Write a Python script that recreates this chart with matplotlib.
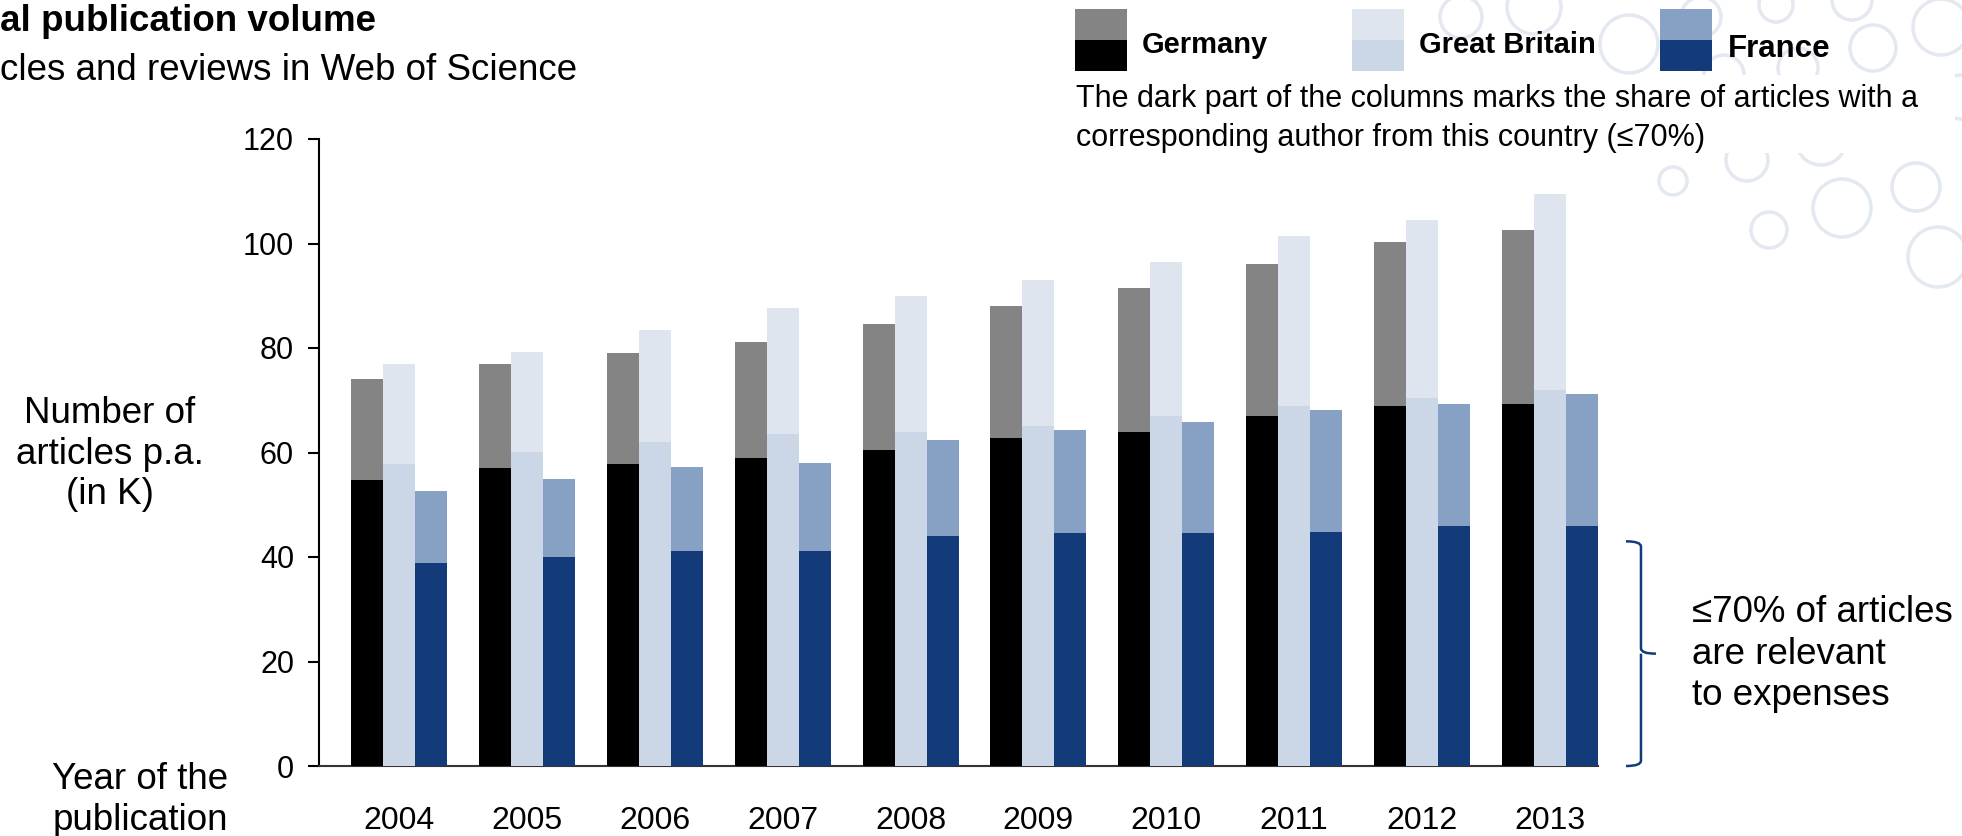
import matplotlib
matplotlib.use('Agg')
import matplotlib.pyplot as plt
import numpy as np
from matplotlib.patches import Rectangle, Circle, PathPatch
from matplotlib.path import Path

plt.rcParams['font.family'] = ['Liberation Sans', 'DejaVu Sans']

# data (in K articles)
years = ['2004', '2005', '2006', '2007', '2008', '2009', '2010', '2011', '2012', '2013']
germany_total = [74.0, 77.0, 79.0, 81.1, 84.6, 88.1, 91.5, 96.1, 100.3, 102.6]
germany_corr = [54.7, 57.0, 57.8, 58.9, 60.5, 62.8, 63.9, 67.0, 68.9, 69.3]
gb_total = [76.9, 79.2, 83.4, 87.6, 89.9, 93.0, 96.5, 101.4, 104.5, 109.5]
gb_corr = [57.8, 60.1, 62.0, 63.5, 63.9, 65.1, 67.0, 68.9, 70.4, 72.0]
france_total = [52.6, 54.9, 57.2, 58.0, 62.4, 64.3, 65.8, 68.1, 69.3, 71.2]
france_corr = [38.9, 40.0, 41.1, 41.1, 44.0, 44.5, 44.5, 44.8, 45.9, 45.9]
y_ticks = [0, 20, 40, 60, 80, 100, 120]

countries = ['Germany', 'Great Britain', 'France']
light_colors = ['#848484', '#dfe5ef', '#86a1c4']
dark_colors = ['#000000', '#cbd7e6', '#133b7a']

W, H = 1962, 836
fig = plt.figure(figsize=(W / 100, H / 100), dpi=100)


def fx(px):
    return px / W


def fy(py):
    return 1 - py / H


# decorative bubbles in the top right corner (pixel centre, radius)
bubbles = [(1461, 17, 21), (1534, 7, 27), (1629, 44, 29), (1701, 17, 20), (1776, 5, 17),
           (1798, 68, 20), (1852, 0, 20), (1873, 48, 23), (1941, 27, 28), (1821, 140, 25),
           (1747, 160, 21), (1673, 181, 14), (1842, 208, 29), (1916, 187, 24),
           (1769, 230, 18), (1938, 257, 30), (1962, 97, 22), (1724, 75, 20)]
for bx, by, br in bubbles:
    fig.patches.append(Circle((bx, H - by), br, transform=None, fill=False,
                              edgecolor='#e3e8f1', lw=2.5, zorder=0))
# white panel behind the note text
fig.patches.append(Rectangle((fx(1070), fy(153)), fx(1955) - fx(1070), fy(75) - fy(153),
                             transform=fig.transFigure, color='white', lw=0, zorder=0.5))

ax = fig.add_axes([fx(319), fy(766), fx(1598) - fx(319), fy(139) - fy(766)])
ax.set_facecolor('none')

x = np.arange(len(years))
w = 0.25
totals = [germany_total, gb_total, france_total]
corrs = [germany_corr, gb_corr, france_corr]
for k in range(3):
    ax.bar(x + (k - 1) * w, totals[k], w, color=light_colors[k], linewidth=0, zorder=2)
    ax.bar(x + (k - 1) * w, corrs[k], w, color=dark_colors[k], linewidth=0, zorder=3)

ax.set_xlim(-0.625, 9.375)
ax.set_ylim(0, 120)
ax.set_yticks(y_ticks)
ax.set_xticks(x)
ax.set_xticklabels(years)
ax.tick_params(axis='y', labelsize=22, length=8, width=1.5, pad=10, direction='out')
ax.tick_params(axis='x', labelsize=23, length=0, pad=29)
for s in ['top', 'right']:
    ax.spines[s].set_visible(False)
ax.spines['left'].set_linewidth(1.5)
ax.spines['bottom'].set_linewidth(1.5)
ax.spines['bottom'].set_color('#333333')

# brace on the right
bx0, bx1, bx2 = 9.594, 9.711, 9.828
ytop, ymid = 43.0, 21.5
verts = [(bx0, ytop), (bx1, ytop), (bx1, ytop - 1.0),
         (bx1, ymid + 1.0), (bx1, ymid), (bx2, ymid),
         (bx1, ymid), (bx1, ymid - 1.0),
         (bx1, 1.0), (bx1, 0), (bx0, 0)]
codes = [Path.MOVETO, Path.CURVE3, Path.CURVE3,
         Path.LINETO, Path.CURVE3, Path.CURVE3,
         Path.MOVETO, Path.CURVE3,
         Path.LINETO, Path.CURVE3, Path.CURVE3]
ax.add_patch(PathPatch(Path(verts, codes), fill=False, edgecolor='#133b7a', lw=1.8,
                       clip_on=False))

# titles
fig.text(fx(0), fy(31), 'al publication volume', fontsize=26.5, fontweight='bold',
         ha='left', va='baseline')
fig.text(fx(0), fy(80), 'cles and reviews in Web of Science', fontsize=26.5,
         ha='left', va='baseline')

# axis captions
fig.text(fx(110), fy(454), 'Number of\narticles p.a.\n(in K)', fontsize=26.5,
         ha='center', va='center', linespacing=1.2)
fig.text(fx(140), fy(800), 'Year of the\npublication', fontsize=26.5,
         ha='center', va='center', linespacing=1.2)
fig.text(fx(1692), fy(654), '≤70% of articles\nare relevant\nto expenses', fontsize=26.5,
         ha='left', va='center', linespacing=1.25)

# legend
patch_x = [1075, 1352, 1660]
label_x = [1142, 1419, 1728]
label_size = [21, 21, 22.5]
label_base = [53, 53, 57]
for k in range(3):
    fig.patches.append(Rectangle((fx(patch_x[k]), fy(40)), fx(52), fy(9) - fy(40),
                                 transform=fig.transFigure, color=light_colors[k], lw=0))
    fig.patches.append(Rectangle((fx(patch_x[k]), fy(71)), fx(52), fy(40) - fy(71),
                                 transform=fig.transFigure, color=dark_colors[k], lw=0))
    fig.text(fx(label_x[k]), fy(label_base[k]), countries[k], fontsize=label_size[k],
             fontweight='bold', ha='left', va='baseline')

fig.text(fx(1076), fy(107),
         'The dark part of the columns marks the share of articles with a',
         fontsize=22, ha='left', va='baseline')
fig.text(fx(1076), fy(146), 'corresponding author from this country (≤70%)',
         fontsize=22, ha='left', va='baseline')

fig.savefig('out.png', dpi=100)
